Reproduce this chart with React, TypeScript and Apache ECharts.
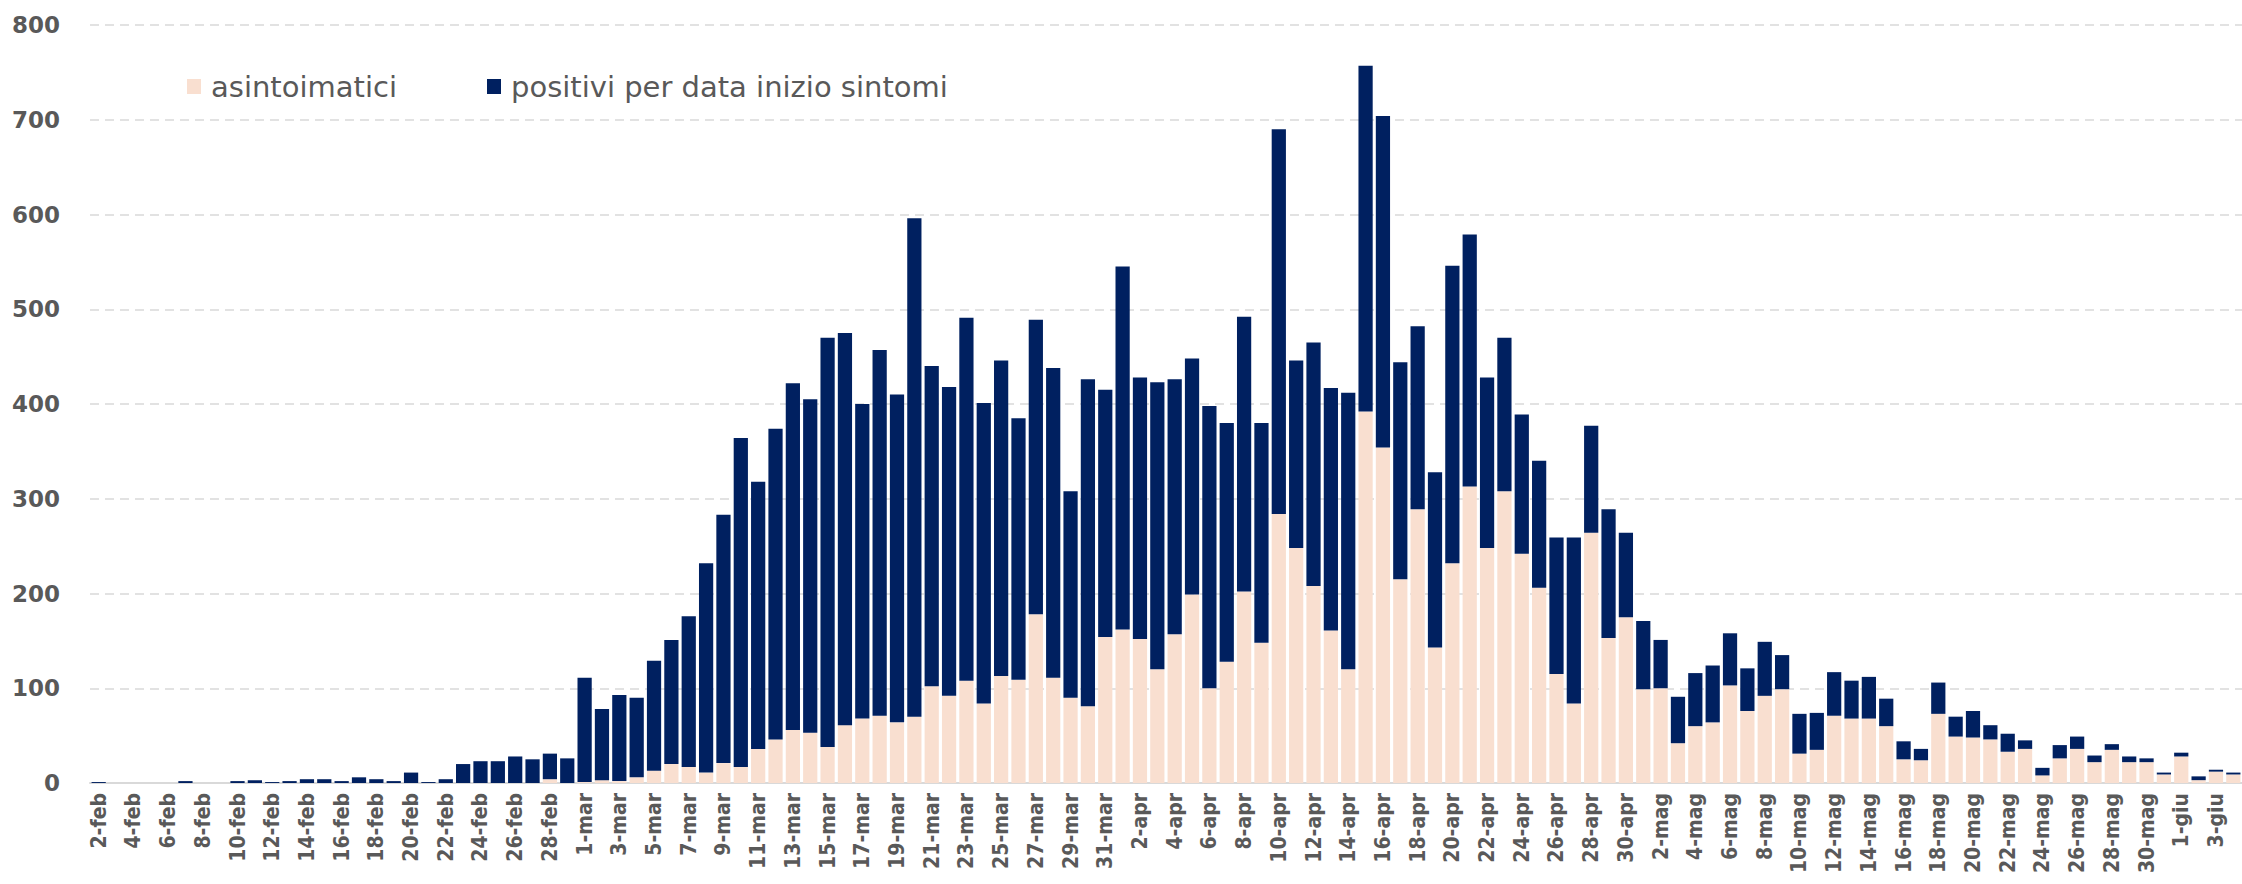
import React, { useEffect, useRef } from "react";
import * as echarts from "echarts";

const categories: string[] = [
  "2-feb","3-feb","4-feb","5-feb","6-feb","7-feb","8-feb","9-feb","10-feb","11-feb","12-feb","13-feb","14-feb","15-feb",
  "16-feb","17-feb","18-feb","19-feb","20-feb","21-feb","22-feb","23-feb","24-feb","25-feb","26-feb","27-feb","28-feb","29-feb",
  "1-mar","2-mar","3-mar","4-mar","5-mar","6-mar","7-mar","8-mar","9-mar","10-mar","11-mar","12-mar","13-mar","14-mar","15-mar","16-mar",
  "17-mar","18-mar","19-mar","20-mar","21-mar","22-mar","23-mar","24-mar","25-mar","26-mar","27-mar","28-mar","29-mar","30-mar","31-mar",
  "1-apr","2-apr","3-apr","4-apr","5-apr","6-apr","7-apr","8-apr","9-apr","10-apr","11-apr","12-apr","13-apr","14-apr","15-apr",
  "16-apr","17-apr","18-apr","19-apr","20-apr","21-apr","22-apr","23-apr","24-apr","25-apr","26-apr","27-apr","28-apr","29-apr","30-apr",
  "1-mag","2-mag","3-mag","4-mag","5-mag","6-mag","7-mag","8-mag","9-mag","10-mag","11-mag","12-mag","13-mag","14-mag","15-mag","16-mag",
  "17-mag","18-mag","19-mag","20-mag","21-mag","22-mag","23-mag","24-mag","25-mag","26-mag","27-mag","28-mag","29-mag","30-mag","31-mag",
  "1-giu","2-giu","3-giu","4-giu",
];

const asintoimatici: number[] = [
  // feb
  0,0,0,0,0,0,0,0,0,0,0,0,0,0,0,0,0,0,0,0,0,0,0,0,0,0,4,0,
  // mar
  1,3,2,6,13,20,17,11,21,17,36,46,56,53,38,61,68,71,64,70,102,92,108,84,113,109,178,111,90,81,154,
  // apr
  162,152,120,157,199,100,128,202,148,284,248,208,161,120,392,354,215,289,143,232,313,248,308,242,206,115,84,264,153,175,
  // mag
  99,100,42,60,64,103,76,92,99,31,35,71,68,68,60,25,24,73,49,48,46,33,36,8,26,36,22,35,22,22,9,
  // giu
  28,3,12,9,
];

const positivi: number[] = [
  // feb
  1,0,0,0,0,2,0,0,2,3,1,2,4,4,2,6,4,2,11,1,4,20,23,23,28,25,27,26,
  // mar
  110,75,91,84,116,131,159,221,262,347,282,328,366,352,432,414,332,386,346,526,338,326,383,317,333,276,311,327,218,345,261,
  // apr
  383,276,303,269,249,298,252,290,232,406,198,257,256,292,365,350,229,193,185,314,266,180,162,147,134,144,175,113,136,89,
  // mag
  72,51,49,56,60,55,45,57,36,42,39,46,40,44,29,19,12,33,21,28,15,19,9,8,14,13,7,6,6,4,2,
  // giu
  4,4,2,2,
];

const yTicks = { min: 0, max: 800, interval: 100 };

const PEACH = "#F9DFD0";
const NAVY = "#002060";
const TEXT = "#595959";

export default function App() {
  const ref = useRef<HTMLDivElement>(null);
  useEffect(() => {
    if (!ref.current) return;
    const chart = echarts.init(ref.current, null, { renderer: "svg" });
    const legendText = {
      color: TEXT,
      fontSize: 29,
      fontFamily: "'DejaVu Sans', sans-serif",
      padding: [0, 0, 0, 5],
    };
    chart.setOption({
      animation: false,
      backgroundColor: "#ffffff",
      grid: { left: 90, right: -7, top: 25, bottom: 101, containLabel: false },
      legend: [
        {
          data: [{ name: "asintoimatici" }],
          left: 182,
          top: 67,
          itemWidth: 14,
          itemHeight: 15,
          icon: "rect",
          textStyle: legendText,
        },
        {
          data: [{ name: "positivi per data inizio sintomi" }],
          left: 482,
          top: 67,
          itemWidth: 14,
          itemHeight: 15,
          icon: "rect",
          textStyle: legendText,
        },
      ],
      xAxis: {
        type: "category",
        data: categories,
        axisLine: { show: true, lineStyle: { color: "#D9D9D9", width: 2 } },
        axisTick: { show: false },
        axisLabel: {
          interval: 1,
          rotate: 90,
          margin: 10,
          color: TEXT,
          fontSize: 21,
          fontWeight: "bold",
          fontFamily: "'Liberation Sans Narrow', 'DejaVu Sans Condensed', 'Arial Narrow', sans-serif",
        },
      },
      yAxis: {
        type: "value",
        min: yTicks.min,
        max: yTicks.max,
        interval: yTicks.interval,
        axisLine: { show: false },
        axisTick: { show: false },
        splitLine: { show: true, lineStyle: { color: "#D9D9D9", width: 1.5, type: [9, 6] } },
        axisLabel: {
          margin: 30,
          color: TEXT,
          fontSize: 23,
          fontWeight: "bold",
          fontFamily: "'DejaVu Sans', sans-serif",
        },
      },
      series: [
        {
          name: "asintoimatici",
          type: "bar",
          stack: "tot",
          data: asintoimatici,
          barCategoryGap: "18%",
          itemStyle: { color: PEACH },
        },
        {
          name: "positivi per data inizio sintomi",
          type: "bar",
          stack: "tot",
          data: positivi,
          barCategoryGap: "18%",
          itemStyle: { color: NAVY },
        },
      ],
    });
    return () => chart.dispose();
  }, []);
  return (
    <div
      ref={ref}
      style={{ position: "fixed", left: 0, top: 0, width: 2242, height: 884, background: "#fff" }}
    />
  );
}
